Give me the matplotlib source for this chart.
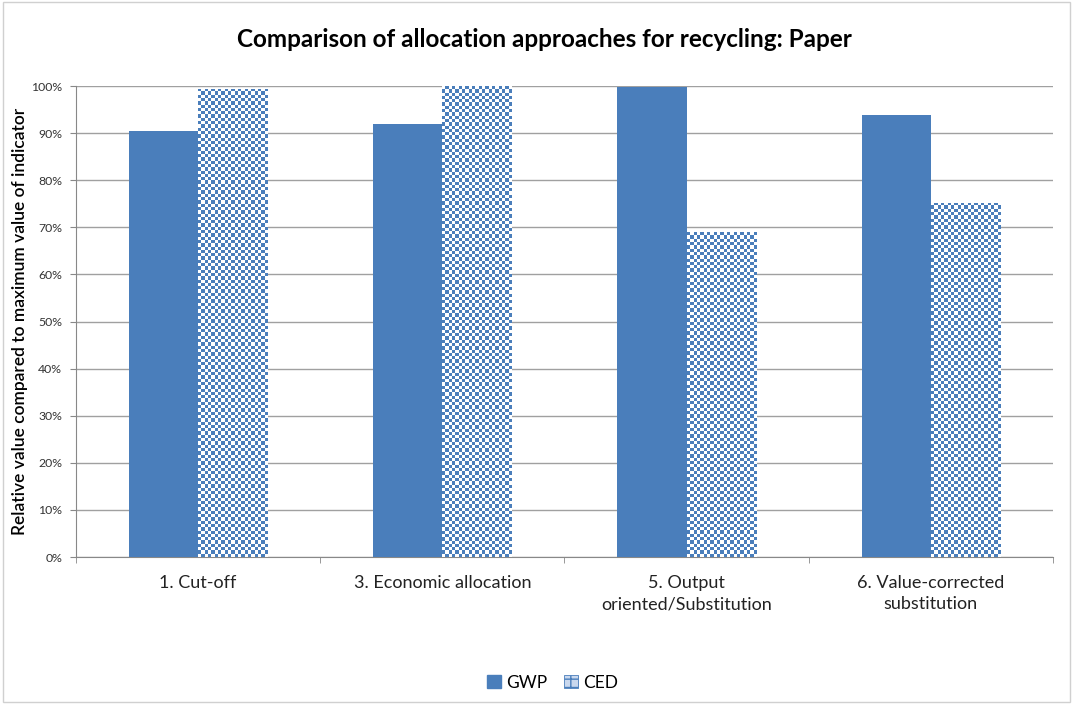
import numpy as np
import matplotlib.pyplot as plt
from matplotlib.patches import Patch
from matplotlib.colors import ListedColormap

categories = ['1. Cut-off', '3. Economic allocation', '5. Output\noriented/Substitution', '6. Value-corrected\nsubstitution']
gwp = [0.904, 0.919, 0.998, 0.938]
ced = [0.994, 1.0, 0.69, 0.752]

plt.rcParams['font.family'] = ['Lato', 'DejaVu Sans']
blue = '#4a7ebb'

fig = plt.figure(figsize=(10.73, 7.04), dpi=100)
fig.patches.append(plt.Rectangle((0.003, 0.003), 0.994, 0.994, transform=fig.transFigure,
                                 fill=False, edgecolor='#d0d0d0', linewidth=1))
ax = fig.add_axes([0.0708, 0.2088, 0.9105, 0.669])

x = np.arange(len(categories))
w = 0.283
ax.bar(x - w / 2, gwp, w, color=blue, zorder=3)
ced_bars = ax.bar(x + w / 2, ced, w, color='white', edgecolor=blue, linewidth=0.6, zorder=3)

# checkerboard fill for CED, clipped to each bar
checker_cmap = ListedColormap(['white', blue])
ax.set_xlim(-0.5, 3.5)
ax.set_ylim(0, 1)
fig.canvas.draw()
for b in ced_bars:
    bx, by = b.get_x(), b.get_y()
    bw, bh = b.get_width(), b.get_height()
    p0 = ax.transData.transform((bx, by))
    p1 = ax.transData.transform((bx + bw, by + bh))
    nx = max(int(round((p1[0] - p0[0]) / 3.3)), 1)
    ny = max(int(round((p1[1] - p0[1]) / 3.3)), 1)
    grid = (np.add.outer(np.arange(ny), np.arange(nx)) % 2).astype(float)
    im = ax.imshow(grid, cmap=checker_cmap, extent=(bx, bx + bw, by, by + bh),
                   interpolation='nearest', aspect='auto', zorder=3.5, origin='lower')
    im.set_clip_path(b)

ax.set_xlim(-0.5, 3.5)
ax.set_ylim(0, 1)
ax.set_yticks(np.arange(0, 1.01, 0.1))
ax.set_yticklabels([f'{int(round(v * 100))}%' for v in np.arange(0, 1.01, 0.1)], fontsize=8.8, color='#333333')
ax.set_xticks(x)
ax.set_xticklabels(categories, fontsize=13, color='#222222', linespacing=1.4)
ax.set_xticks(np.arange(-0.5, 3.6, 1), minor=True)
ax.tick_params(axis='x', which='major', length=0, pad=13)
ax.tick_params(axis='x', which='minor', length=4, color='#888888', direction='out')
ax.tick_params(axis='y', length=4, color='#888888', pad=6, direction='out')
ax.grid(axis='y', color='#a0a0a0', linewidth=1, zorder=0)
for s in ['top', 'right']:
    ax.spines[s].set_visible(False)
ax.spines['left'].set_color('#888888')
ax.spines['bottom'].set_color('#888888')
ax.set_ylabel('Relative value compared to maximum value of indicator', fontsize=12.5,
              fontweight='semibold', labelpad=2)

ax.set_title('Comparison of allocation approaches for recycling: Paper', fontsize=17.5,
             fontweight='bold', pad=28, x=0.48)

handles = [Patch(facecolor=blue, edgecolor=blue),
           Patch(facecolor='#c9d8ee', edgecolor=blue, hatch='++', linewidth=0.6)]
fig.legend(handles, ['GWP', 'CED'], loc='center', bbox_to_anchor=(0.515, 0.03), ncol=2,
           frameon=False, fontsize=12.5, handlelength=0.8, handleheight=0.8, columnspacing=1.0,
           handletextpad=0.3)

fig.savefig('out.png', dpi=100)
